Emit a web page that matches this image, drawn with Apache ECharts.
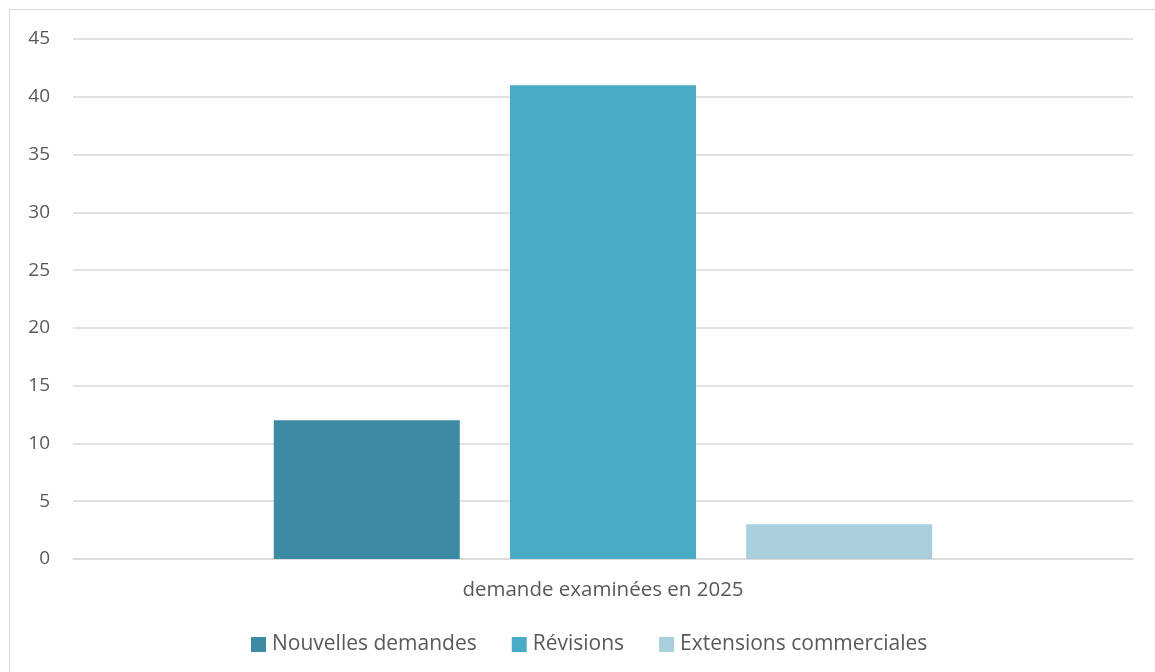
<!DOCTYPE html>
<html>
<head>
<meta charset="utf-8">
<script src="https://cdn.jsdelivr.net/npm/echarts@6/dist/echarts.min.js"></script>
<style>
html,body{margin:0;padding:0;background:#fff;}
#frame{position:absolute;left:9px;top:9px;width:1160px;height:680px;border-left:1.5px solid #d9d9d9;border-top:1.5px solid #d9d9d9;}
#chart{position:absolute;left:0;top:0;width:1155px;height:672px;}
</style>
</head>
<body>
<div id="frame"></div>
<div id="chart"></div>
<script>
const categories = ['demande examinées en 2025'];
const seriesNames = ['Nouvelles demandes', 'Révisions', 'Extensions commerciales'];
const nouvelles = [12];
const revisions = [41];
const extensions = [3];
const colors = ['#3C8BA3', '#4AABC6', '#A9CFDC'];

const chart = echarts.init(document.getElementById('chart'));
const font = 'Open Sans, Noto Sans, sans-serif';
chart.setOption({
  animation: false,
  textStyle: {fontFamily: font},
  grid: {left: 73, right: 22, top: 39, bottom: 113, containLabel: false},
  legend: {
    bottom: 12, left: 246,
    itemWidth: 15, itemHeight: 15, itemGap: 35,
    icon: 'rect',
    textStyle: {fontSize: 21, color: '#595959', fontFamily: font, padding: [0, 0, 0, 1]},
    data: seriesNames
  },
  xAxis: {
    type: 'category', data: categories,
    axisLine: {lineStyle: {color: '#d9d9d9', width: 1.5}},
    axisTick: {show: false},
    axisLabel: {fontSize: 20.5, color: '#595959', margin: 21, fontFamily: font}
  },
  yAxis: {
    type: 'value', min: 0, max: 45, interval: 5,
    axisLine: {show: false}, axisTick: {show: false},
    splitLine: {lineStyle: {color: '#d9d9d9', width: 1.5}},
    axisLabel: {fontSize: 19, color: '#595959', margin: 23, fontFamily: font}
  },
  series: [
    {name: seriesNames[0], type: 'bar', data: nouvelles, barWidth: 186, barGap: '27%', itemStyle: {color: colors[0]}},
    {name: seriesNames[1], type: 'bar', data: revisions, barWidth: 186, barGap: '27%', itemStyle: {color: colors[1]}},
    {name: seriesNames[2], type: 'bar', data: extensions, barWidth: 186, barGap: '27%', itemStyle: {color: colors[2]}}
  ]
});
</script>
</body>
</html>
